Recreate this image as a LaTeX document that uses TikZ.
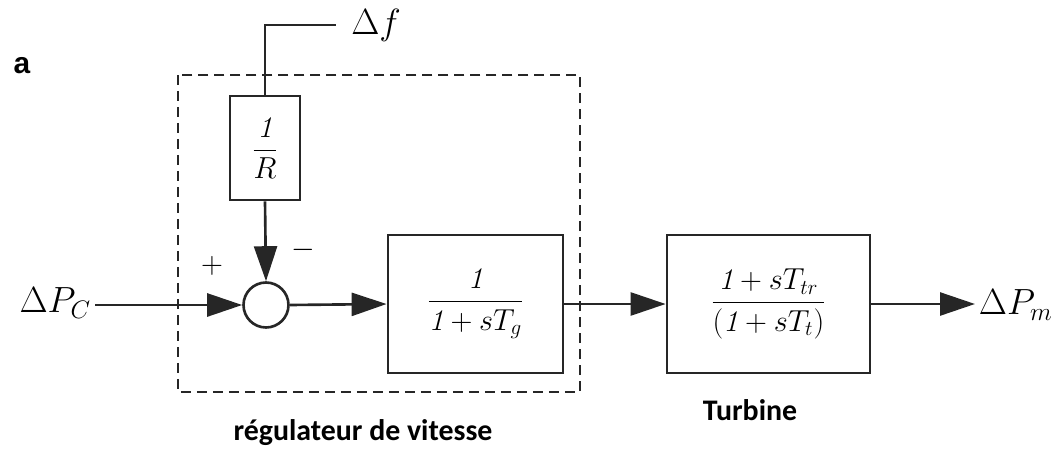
\documentclass[tikz,border=0pt]{standalone}
\usepackage{amsmath}
\usepackage{fontspec}
\usetikzlibrary{positioning, arrows.meta, calc}
\newfontfamily\lblfont{Carlito}
\newfontfamily\tagfont{Liberation Sans}
\tikzset{
    blockstyle/.style={rectangle, draw=black!85, line width=1.6pt, fill=white, align=center, font=\fontsize{17}{20}\selectfont, inner sep=0pt},
    sumstyle/.style={circle, draw=black!85, line width=1.5pt, minimum size=0.9cm, inner sep=0pt},
    sig/.style={-{Triangle[length=0.7cm, width=0.46cm]}, line width=1.5pt, color=black!85},
    wire/.style={line width=1.5pt, color=black!85},
    grouplbl/.style={font=\lblfont\bfseries\fontsize{17}{20}\selectfont},
    siglbl/.style={font=\fontsize{21}{24}\selectfont, inner sep=2pt},
    signlbl/.style={font=\fontsize{17}{20}\selectfont, inner sep=0pt}
}
\begin{document}
\begin{tikzpicture}[x=0.02cm, y=-0.02cm]
            \useasboundingbox (0,0) rectangle (1055,450);
            % regulateur de vitesse
            \draw[wire, dash pattern=on 0.2cm off 0.12cm] (178,75) rectangle (580,392);
            \node[blockstyle, minimum width=1.4cm, minimum height=2.08cm] (gainR) at (265,148) {$\dfrac{\mathit{1}}{R}$};
            \node[sumstyle] (sum) at (266,305) {};
            \node[blockstyle, minimum width=3.5cm, minimum height=2.76cm] (gov) at (475.5,304) {$\dfrac{\mathit{1}}{\mathit{1}+sT_g}$};
            % turbine
            \node[blockstyle, minimum width=4.06cm, minimum height=2.76cm] (turb) at (768.5,304) {$\dfrac{\mathit{1}+sT_{tr}}{(\mathit{1}+sT_t)}$};
            % signals
            \node[siglbl, anchor=east] (pc) at (95,303) {$\Delta P_C$};
            \node[siglbl, anchor=west] (pm) at (975,305) {$\Delta P_m$};
            \node[siglbl, anchor=west, inner sep=0pt] (df) at (336,25) {\hspace{0.3cm}$\Delta f$};
            \node[signlbl] (plus) at (212,266) {$+$};
            \node[signlbl] (minus) at (303,250) {$-$};
            \draw[sig] (pc.east |- sum) -- (sum.west);
            \draw[wire] (gainR.north) |- (df.west);
            \draw[sig] (gainR.south) -- (sum.north);
            \draw[sig] (sum.east) -- (gov.west);
            \draw[sig] (gov.east) -- (turb.west);
            \draw[sig] (turb.east) -- (pm.west |- turb.east);
            % labels
            \node[grouplbl] (govlbl) at (363,433) {régulateur de vitesse};
            \node[grouplbl] (turblbl) at (750,410) {Turbine};
            \node[font=\tagfont\bfseries\fontsize{17}{20}\selectfont] (tag) at (22,66) {a};
        \end{tikzpicture}
\end{document}
